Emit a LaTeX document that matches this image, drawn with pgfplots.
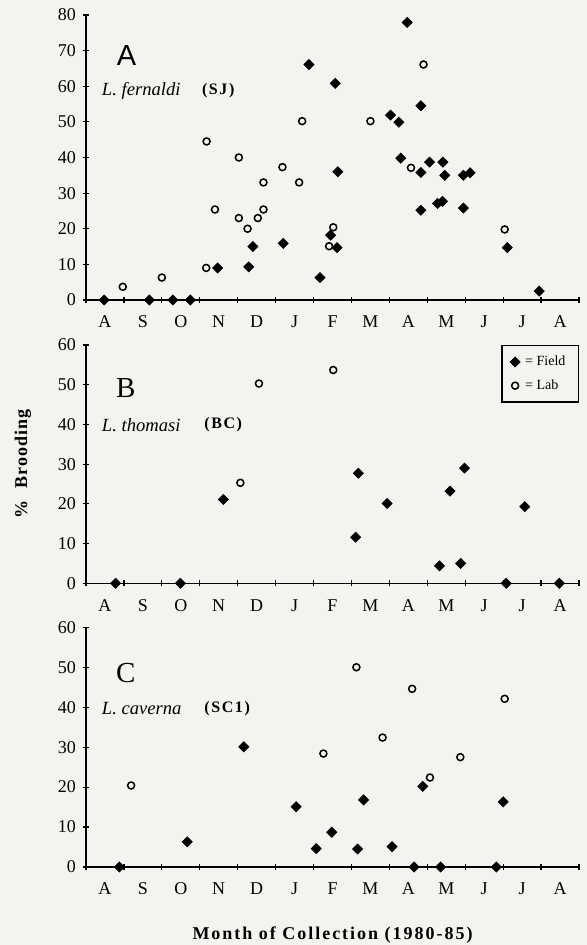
\documentclass[border=0pt]{standalone}
\usepackage{pgfplots}
\pgfplotsset{compat=1.18}
\usepackage{fontspec}
\setmainfont{Liberation Serif}
\newfontfamily\lsans{Liberation Sans}
\definecolor{bg}{RGB}{244,243,239}

\pgfplotstableread{
x y
0.48 0
1.67 0
2.29 0
2.75 0
3.47 9
4.29 9.3
4.40 15
5.20 15.9
5.88 66.1
6.17 6.3
6.45 18.2
6.62 14.7
6.57 60.8
6.64 36
8.03 51.9
8.25 49.9
8.47 77.9
8.30 39.8
8.83 54.5
8.83 35.8
8.83 25.2
9.06 38.7
9.41 38.7
9.46 35.0
9.27 27.1
9.40 27.7
9.95 35.0
10.13 35.7
9.95 25.8
11.11 14.7
11.95 2.5
}\AField
\pgfplotstableread{
x y
0.97 3.7
2.00 6.3
3.18 44.5
3.17 9
3.40 25.4
4.03 40
4.03 23
4.26 20
4.53 23
4.68 25.4
4.68 33
5.18 37.3
5.62 33
5.70 50.2
6.52 20.4
6.41 15.1
7.50 50.2
8.57 37.1
8.90 66.1
11.04 19.8
}\ALab
\pgfplotstableread{
x y
0.78 0
2.49 0
3.62 21.1
7.18 27.7
7.11 11.6
7.94 20.1
9.32 4.4
9.60 23.2
9.88 5.0
9.98 29.0
11.08 0
11.57 19.3
12.48 0
}\BField
\pgfplotstableread{
x y
4.07 25.3
4.56 50.3
6.52 53.7
}\BLab
\pgfplotstableread{
x y
0.88 0
2.67 6.3
4.16 30.1
5.54 15.1
6.07 4.6
6.48 8.7
7.16 4.5
7.32 16.8
8.07 5.1
8.65 0
8.88 20.2
9.35 0
10.82 0
11.00 16.3
}\CField
\pgfplotstableread{
x y
1.19 20.4
6.26 28.4
7.13 50.0
7.82 32.4
8.60 44.6
9.07 22.4
9.87 27.5
11.04 42.1
}\CLab

\pgfplotsset{
 brood/.style={
  scale only axis, width=246.5pt, xmin=0, xmax=13, ymin=0,
  axis x line=bottom, axis y line=left,
  axis line style={-, line width=0.7pt, black},
  xtick={0,...,13}, x tick label as interval,
  xticklabels={A,S,O,N,D,J,F,M,A,M,J,J,A},
  tick align=center, major tick length=3pt,
  every tick/.style={line width=0.6pt, black},
  ticklabel style={font=\fontsize{9}{10}\selectfont},
  xticklabel style={yshift=-3pt},
  /pgf/number format/assume math mode=true,
  clip=false, anchor=south west,
 },
 fld/.style={only marks, mark=square*, mark size=1.8pt, mark options={rotate=45, fill=black, draw=black, line width=0.3pt}},
 lab/.style={only marks, mark=o, mark size=1.75pt, mark options={draw=black, line width=0.75pt, fill=white}},
}
\tikzset{
 spec/.style={anchor=west, font=\fontsize{9.3}{10}\selectfont\itshape, inner sep=0pt},
 code/.style={anchor=west, font=\fontsize{8}{10}\selectfont\bfseries\addfontfeature{LetterSpace=10}, inner sep=0pt},
 letter/.style={font=\fontsize{14.5}{15}\selectfont, inner sep=0pt},
}

\begin{document}
\begin{tikzpicture}
\fill[bg] (0,0) rectangle (293.5pt,472.5pt);
\path[use as bounding box] (0,0) rectangle (293.5pt,472.5pt);

% Panel A
\begin{axis}[brood, at={(43pt,322.5pt)}, height=142.5pt, ymax=80, ytick={0,10,...,80}]
\addplot[fld] table[x=x,y=y] {\AField};
\addplot[lab] table[x=x,y=y] {\ALab};
\node[letter, font=\fontsize{14.5}{15}\selectfont\lsans] at (axis cs:1.07,68.5) {A};
\node[spec] at (axis cs:0.41,58.7) {L. fernaldi};
\node[code] at (axis cs:3.05,58.7) {(SJ)};
\end{axis}

% Panel B
\begin{axis}[brood, at={(43pt,180.85pt)}, height=119.15pt, ymax=60, ytick={0,10,...,60},
  ylabel={\%\hspace{6pt}Brooding},
  ylabel style={at={(axis description cs:-0.128,0.5)}, anchor=center,
    font=\fontsize{9}{10}\selectfont\bfseries\addfontfeature{LetterSpace=6}},
  legend style={at={(1,1)}, anchor=north east, draw=black, line width=0.6pt,
    fill=none, font=\fontsize{7}{8}\selectfont, row sep=1.5pt,
    inner xsep=4pt, inner ysep=3pt, legend cell align=left,
    nodes={inner xsep=2.5pt}},
  legend image post style={line width=0.6pt}]
\addplot[fld] table[x=x,y=y] {\BField};
\addlegendentry{= Field}
\addplot[lab] table[x=x,y=y] {\BLab};
\addlegendentry{= Lab}
\node[letter] at (axis cs:1.05,49.2) {B};
\node[spec] at (axis cs:0.41,39.9) {L. thomasi};
\node[code] at (axis cs:3.11,39.9) {(BC)};
\end{axis}

% Panel C
\begin{axis}[brood, at={(43pt,39pt)}, height=119.85pt, ymax=60, ytick={0,10,...,60},
  xlabel={Month of Collection (1980-85)},
  xlabel style={at={(axis description cs:0.5,-0.284)}, anchor=center,
    font=\fontsize{9}{10}\selectfont\bfseries\addfontfeature{LetterSpace=11}}]
\addplot[fld] table[x=x,y=y] {\CField};
\addplot[lab] table[x=x,y=y] {\CLab};
\node[letter] at (axis cs:1.05,48.5) {C};
\node[spec] at (axis cs:0.41,39.7) {L. caverna};
\node[code] at (axis cs:3.11,39.7) {(SC1)};
\end{axis}
\end{tikzpicture}
\end{document}
